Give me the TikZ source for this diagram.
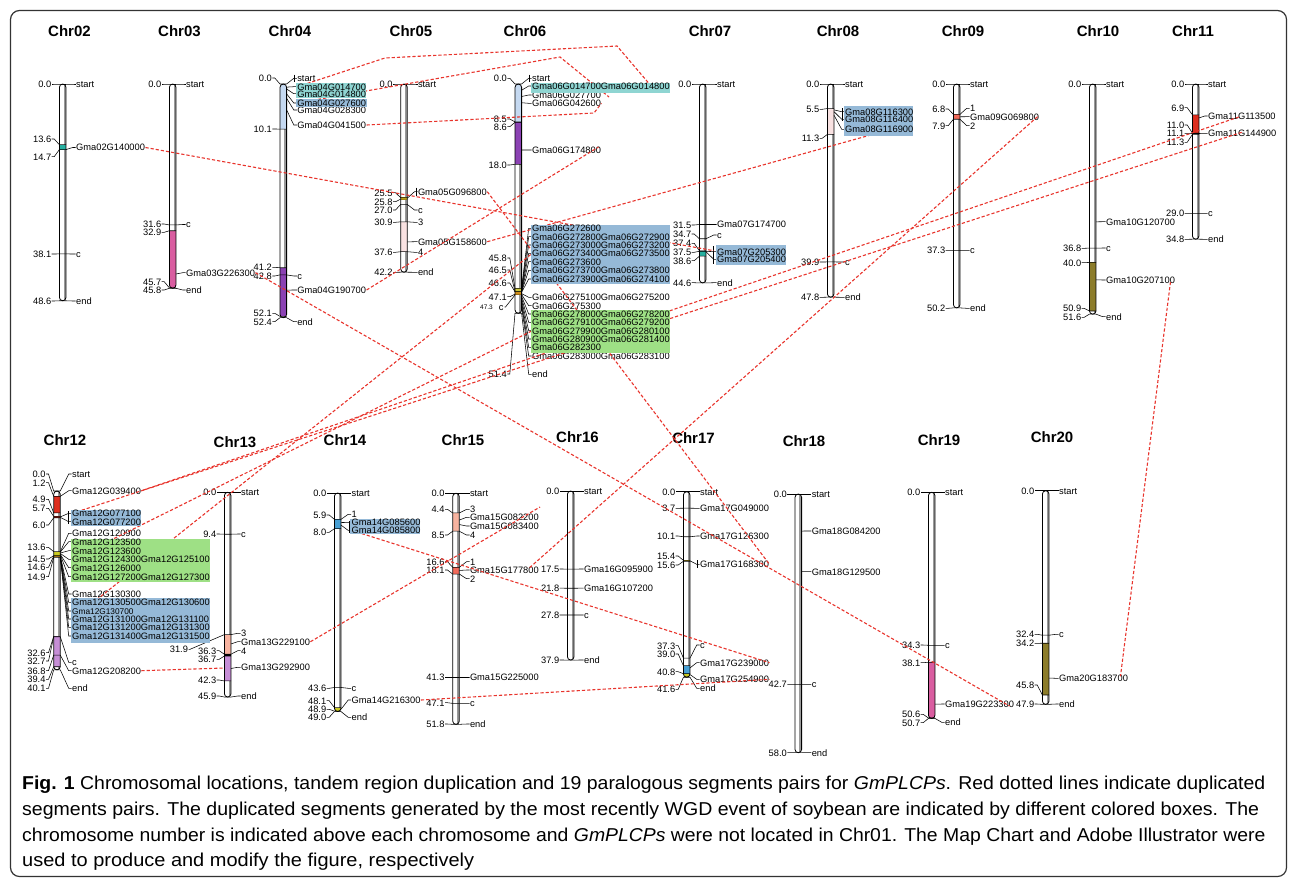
\documentclass[tikz,border=0pt]{standalone}
\usepackage{fontspec}
\setmainfont{Liberation Sans}
\usetikzlibrary{calc}
\definecolor{redl}{HTML}{E8342C}
\definecolor{sTeal}{HTML}{26B0A0}
\definecolor{sMag}{HTML}{D95DA0}
\definecolor{sLBlue}{HTML}{C5D9F1}
\definecolor{sPurp}{HTML}{8B42B3}
\definecolor{sYel}{HTML}{F2D024}
\definecolor{sLPink}{HTML}{F9E2E2}
\definecolor{sOliveY}{HTML}{C9C63E}
\definecolor{sOrange}{HTML}{EBA01E}
\definecolor{sSalmon}{HTML}{F26B5B}
\definecolor{sOlive}{HTML}{8C7C2A}
\definecolor{sRed}{HTML}{DE2F1F}
\definecolor{sPeach}{HTML}{F7B3A0}
\definecolor{sLav}{HTML}{C68ED6}
\definecolor{sBlue}{HTML}{479FD3}
\definecolor{sYG}{HTML}{CACA22}
\definecolor{hTeal}{HTML}{8FD5D2}
\definecolor{hBlue}{HTML}{95B9D7}
\definecolor{hGreen}{HTML}{9EE085}
\definecolor{stripe}{HTML}{9A9A9A}
\newcount\lblc
\newlength\tw
\tikzset{
 lk/.style={line width=0.55pt},
 lt/.style={inner sep=0.3pt, font=\fontsize{9.3}{9.3}\selectfont, text height=6.6pt, text depth=0pt},
 chrline/.style={line width=0.8pt},
 ttl/.style={font=\fontsize{15}{15}\selectfont\bfseries, inner sep=0},
 rdash/.style={draw=redl, line width=1.1pt, dash pattern=on 3.2pt off 2pt},
 capt/.style={anchor=base west, inner sep=0},
}
\newcommand\setc[3][13]{\def\cx{#2}\def\cy{#3}\def\ro{#1}}
\newcommand\chrom[2]{%
  \fill[white,rounded corners=3.3pt] ({\cx-3.3},\cy) rectangle ({\cx+3.3},{\cy+4.46*(#1)});
  \begin{scope}
   \clip[rounded corners=3.3pt] ({\cx-3.3},\cy) rectangle ({\cx+3.3},{\cy+4.46*(#1)});
   \fill[stripe] ({\cx+0.9},\cy) rectangle ({\cx+3.3},{\cy+4.46*(#1)});
   #2
  \end{scope}
  \draw[chrline,rounded corners=3.3pt] ({\cx-3.3},\cy) rectangle ({\cx+3.3},{\cy+4.46*(#1)});}
\newcommand\seg[3]{\fill[#3] ({\cx-3.4},{\cy+4.46*(#1)}) rectangle ({\cx+3.4},{\cy+4.46*(#2)});}
\newcommand\lft[3]{%
 \draw[lk] ({\cx+3.3},{\cy+4.46*(#1)}) -- ({\cx-3.3},{\cy+4.46*(#1)}) -- ({\cx-8.5},#2) -- ({\cx-11},#2);%
 \global\advance\lblc1
 \node[lt,anchor=east] (n\the\lblc) at ({\cx-11},#2) {#3};}
\newcommand\rgt[4][]{%
 \draw[lk] ({\cx+3.3},{\cy+4.46*(#2)}) -- ({\cx+\ro-3},#3) -- ({\cx+\ro},#3);%
 \global\advance\lblc1
 \if\relax\detokenize{#1}\relax\edef\nm{n\the\lblc}\else\def\nm{#1}\fi
 \node[lt,anchor=west] (\nm) at ({\cx+\ro},#3) {#4};}
\makeatletter
\def\deferred{}
\newcommand\rgh[4]{%
 \draw[lk] ({\cx+3.3},{\cy+4.46*(#2)}) -- ({\cx+\ro-3},#3) -- ({\cx+\ro},#3);%
 \settowidth\tw{\fontsize{9.3}{9.3}\selectfont #4}%
 \pgfmathsetmacro\tmpx{\cx+\ro}%
 \pgfmathsetmacro\tmpe{\cx+\ro+\tw+0.6}%
 \coordinate (#1W) at (\tmpx,#3);
 \coordinate (#1E) at (\tmpe,#3);
 \edef\tmp{\noexpand\node[lt,anchor=west] (#1) at (\tmpx,#3) {\unexpanded{#4}};}%
 \expandafter\g@addto@macro\expandafter\deferred\expandafter{\tmp}}
\makeatother
\begin{document}
\begin{tikzpicture}[x=1pt,y=-1pt]
\useasboundingbox (0,0) rectangle (1292,879);
\draw[line width=1.2pt, draw=black!80, rounded corners=9pt] (10.5,10.5) rectangle (1286.5,876.5);
% titles
\node[ttl] (t02) at (69.5,31) {Chr02};
\node[ttl] (t03) at (179.5,31) {Chr03};
\node[ttl] (t04) at (290,31) {Chr04};
\node[ttl] (t05) at (411,31) {Chr05};
\node[ttl] (t06) at (525,31) {Chr06};
\node[ttl] (t07) at (710,31) {Chr07};
\node[ttl] (t08) at (838,31) {Chr08};
\node[ttl] (t09) at (963,31) {Chr09};
\node[ttl] (t10) at (1098,31) {Chr10};
\node[ttl] (t11) at (1193,31) {Chr11};
\node[ttl] (t12) at (65,440) {Chr12};
\node[ttl] (t13) at (235,442) {Chr13};
\node[ttl] (t14) at (345,440) {Chr14};
\node[ttl] (t15) at (463,440) {Chr15};
\node[ttl] (t16) at (577.5,437) {Chr16};
\node[ttl] (t17) at (693.5,438) {Chr17};
\node[ttl] (t18) at (804,441) {Chr18};
\node[ttl] (t19) at (939,440) {Chr19};
\node[ttl] (t20) at (1052,437) {Chr20};
% Chr02
\setc{62.7}{84}
\chrom{48.6}{\seg{13.6}{14.7}{sTeal}}
\lft{0}{84}{0.0}\lft{13.6}{139}{13.6}\lft{14.7}{156.7}{14.7}\lft{38.1}{254}{38.1}\lft{48.6}{301}{48.6}
\rgt{0}{84}{start}\rgt[g02]{14.7}{147.5}{Gma02G140000}\rgt{38.1}{254}{c}\rgt{48.6}{301}{end}
% Chr03
\setc{172.7}{84}
\chrom{45.8}{\seg{32.9}{45.7}{sMag}}
\lft{0}{84}{0.0}\lft{31.6}{224}{31.6}\lft{32.9}{232.3}{32.9}\lft{45.7}{281.7}{45.7}\lft{45.8}{290}{45.8}
\rgt{0}{84}{start}\rgt{31.6}{224.5}{c}\rgt[g03]{42.6}{272.7}{Gma03G226300}\rgt{45.8}{290}{end}
% Chr04
\setc[13.5]{283.3}{84}
\chrom{52.4}{\seg{0}{10.1}{sLBlue}\seg{41.2}{52.1}{sPurp}}
\lft{0}{78}{0.0}\lft{10.1}{129}{10.1}\lft{41.2}{267.3}{41.2}\lft{42.8}{276}{42.8}\lft{52.1}{313.3}{52.1}\lft{52.4}{321.7}{52.4}
\rgt{0}{78.3}{start}\rgh{g04a}{0.7}{86.7}{Gma04G014700}\rgh{g04x}{1.1}{93.7}{Gma04G014800}\rgh{g04b}{2.2}{103}{Gma04G027600}\rgt{3.2}{110}{Gma04G028300}\rgt[g04c]{5.8}{125}{Gma04G041500}\rgt{42.8}{276}{c}\rgt[g04d]{46.2}{290}{Gma04G190700}\rgt{52.4}{321.7}{end}
\draw[lk] (293.8,74.5) -- (293.8,82);
% Chr05
\setc[13.5]{404}{84}
\chrom{42.2}{\seg{25.4}{25.9}{sYel}\seg{30.9}{37.6}{sLPink}}
\lft{0}{84}{0.0}\lft{25.5}{192.7}{25.5}\lft{25.8}{201.7}{25.8}\lft{27.0}{210}{27.0}\lft{30.9}{222.3}{30.9}\lft{37.6}{252.3}{37.6}\lft{42.2}{272.3}{42.2}
\rgt{0}{84}{start}\rgt[g05a]{25.6}{191.7}{Gma05G096800}\rgt{27.0}{210}{c}\rgt{30.9}{222.3}{3}\rgt[g05b]{35.4}{241.7}{Gma05G158600}\rgt{37.6}{252.3}{4}\rgt{42.2}{272.3}{end}
\draw[lk] (416,187.5) -- (416,196);
% Chr06
\setc[13.4]{518.3}{84}
\chrom{51.4}{\seg{0}{8.5}{sLBlue}\seg{8.6}{18.0}{sPurp}\seg{45.8}{46.6}{sOliveY}\seg{46.6}{47.4}{sOrange}}
\lft{0}{78.3}{0.0}\lft{8.5}{119}{8.5}\lft{8.6}{126.7}{8.6}\lft{18.0}{165}{18.0}\lft{45.8}{258}{45.8}\lft{46.5}{270}{46.5}\lft{46.6}{283}{46.6}\lft{47.1}{296.7}{47.1}\lft{51.4}{374}{51.4}
\draw[lk] ({\cx-3.3},{\cy+4.46*47.3}) -- (505.5,307) -- (504.5,307);
\node[lt,anchor=east] (c06) at (504,307) {c};
\node[inner sep=0, anchor=east, font=\fontsize{6.5}{6.5}\selectfont] (p06) at (493,307) {47.3};
\rgt{0}{78.3}{start}\rgh{g06a}{1.4}{86}{Gma06G014700Gma06G014800}\rgt[g06b]{2.8}{95}{Gma06G027700}\rgt[g06c]{4.2}{103.3}{Gma06G042600}\rgt[g06d]{14.8}{150}{Gma06G174800}
\draw[lk] (528.8,74.5) -- (528.8,82);
\rgh{g06h1}{45.8}{228.3}{Gma06G272600}
\rgh{g06h2}{46.0}{236.7}{Gma06G272800Gma06G272900}
\rgh{g06h3}{46.2}{245}{Gma06G273000Gma06G273200}
\rgh{g06f}{46.4}{253.3}{Gma06G273400Gma06G273500}
\rgh{g06h5}{46.5}{261.7}{Gma06G273600}
\rgh{g06h6}{46.6}{270.3}{Gma06G273700Gma06G273800}
\rgh{g06h7}{46.7}{279}{Gma06G273900Gma06G274100}
\rgt{47.0}{297.3}{Gma06G275100Gma06G275200}
\rgt{47.2}{305.7}{Gma06G275300}
\rgh{g06k1}{47.6}{314}{Gma06G278000Gma06G278200}
\rgh{g06k2}{48.0}{322.3}{Gma06G279100Gma06G279200}
\rgh{g06g}{48.5}{330.7}{Gma06G279900Gma06G280100}
\rgh{g06k4}{49.0}{339}{Gma06G280900Gma06G281400}
\rgh{g06k5}{49.5}{347.3}{Gma06G282300}
\rgt{50.0}{356}{Gma06G283000Gma06G283100}
\rgt{51.4}{374.3}{end}
% Chr07
\setc[14]{702.7}{84}
\chrom{44.6}{\seg{37.5}{38.6}{sTeal}}
\lft{0}{84}{0.0}\lft{31.5}{225}{31.5}\lft{34.7}{234}{34.7}\lft{37.4}{243.3}{37.4}\lft{37.5}{252.3}{37.5}\lft{38.6}{260.7}{38.6}\lft{44.6}{282.7}{44.6}
\rgt{0}{84}{start}\rgt{31.5}{224.5}{Gma07G174700}\rgt{34.7}{235}{c}\rgh{g07}{37.5}{251.7}{Gma07G205300}\rgh{g07x}{37.6}{259.3}{Gma07G205400}\rgt{44.6}{282.7}{end}
\draw[lk] (713,246) -- (713,264);
% Chr08
\setc[14]{830.7}{84}
\chrom{47.8}{\seg{5.5}{11.3}{sLPink}}
\lft{0}{84}{0.0}\lft{5.5}{109.3}{5.5}\lft{11.3}{138.3}{11.3}\lft{39.9}{262}{39.9}\lft{47.8}{297.3}{47.8}
\rgt{0}{84}{start}\rgh{g08a}{5.8}{111.7}{Gma08G116300}\rgh{g08b}{6.2}{119.3}{Gma08G116400}\rgh{g08}{7.0}{129.3}{Gma08G116900}\rgt{39.9}{262}{c}\rgt{47.8}{297.3}{end}
\draw[lk] (842,108) -- (842,121);
% Chr09
\setc{956.7}{84}
\chrom{50.2}{\seg{6.8}{7.9}{sSalmon}}
\lft{0}{84}{0.0}\lft{6.8}{109}{6.8}\lft{7.9}{125.7}{7.9}\lft{37.3}{250.4}{37.3}\lft{50.2}{308.3}{50.2}
\rgt{0}{84}{start}\rgt{6.8}{108.3}{1}\rgt[g09]{7.35}{116.7}{Gma09G069800}\rgt{7.9}{125.7}{2}\rgt{37.3}{250.4}{c}\rgt{50.2}{308.3}{end}
% Chr10
\setc{1092.7}{84}
\chrom{51.6}{\seg{40.0}{50.9}{sOlive}}
\lft{0}{84}{0.0}\lft{36.8}{248.3}{36.8}\lft{40.0}{262.7}{40.0}\lft{50.9}{308.3}{50.9}\lft{51.6}{317.3}{51.6}
\rgt{0}{84}{start}\rgt{30.9}{221.7}{Gma10G120700}\rgt{36.8}{248}{c}\rgt[g10]{43.9}{280}{Gma10G207100}\rgt{51.6}{316.7}{end}
% Chr11
\setc[12]{1195.7}{84}
\chrom{34.8}{\seg{6.9}{11.3}{sRed}}
\lft{0}{84}{0.0}\lft{6.9}{107.7}{6.9}\lft{11.0}{125}{11.0}\lft{11.1}{133.3}{11.1}\lft{11.3}{142.3}{11.3}\lft{29.0}{213.3}{29.0}\lft{34.8}{239.3}{34.8}
\rgt{0}{84}{start}\rgt[g11a]{7.6}{116}{Gma11G113500}\rgt[g11b]{11.1}{133.3}{Gma11G144900}\rgt{29.0}{213.3}{c}\rgt{34.8}{239.3}{end}
% Chr12
\setc[14.7]{57}{491}
\chrom{40.1}{\seg{1.2}{4.9}{sRed}\seg{5.7}{6.0}{sRed}\seg{13.6}{14.5}{sYG}\seg{14.5}{14.9}{sOrange}\seg{32.6}{39.4}{sLav}}
\lft{0}{474}{0.0}\lft{1.2}{482.7}{1.2}\lft{4.9}{499.3}{4.9}\lft{5.7}{508.3}{5.7}\lft{6.0}{525}{6.0}\lft{13.6}{547.3}{13.6}\lft{14.5}{559}{14.5}\lft{14.6}{567.3}{14.6}\lft{14.9}{576.7}{14.9}\lft{32.6}{652.7}{32.6}\lft{32.7}{661}{32.7}\lft{36.8}{670.7}{36.8}\lft{39.4}{679.3}{39.4}\lft{40.1}{688.3}{40.1}
\rgt{0}{474}{start}\rgt[g12a]{1.2}{490.7}{Gma12G039400}\rgh{g12b}{5.8}{513.3}{Gma12G077100}\rgh{g12bx}{5.9}{521.7}{Gma12G077200}
\rgt{13.6}{533.3}{Gma12G120900}\rgh{g12m1}{13.7}{541.7}{Gma12G123500}\rgh{g12m2}{13.9}{550.7}{Gma12G123600}\rgh{g12c}{14.0}{559.3}{Gma12G124300Gma12G125100}\rgh{g12m4}{14.2}{567.7}{Gma12G126000}\rgh{g12m5}{14.3}{576.7}{Gma12G127200Gma12G127300}
\rgt{14.5}{594}{Gma12G130300}\rgh{g12p1}{14.6}{602.3}{Gma12G130500Gma12G130600}\rgh{g12p2}{14.7}{611}{\fontsize{8.3}{8.3}\selectfont Gma12G130700}\rgh{g12d}{14.75}{619}{Gma12G131000Gma12G131100}\rgh{g12p4}{14.8}{627.3}{Gma12G131200Gma12G131300}\rgh{g12p5}{14.9}{636}{Gma12G131400Gma12G131500}
\rgt{32.7}{662.3}{c}\rgt[g12e]{36.8}{670.7}{Gma12G208200}\rgt{40.1}{688.3}{end}
\draw[lk] (68,511) -- (68,524);
% Chr13
\setc{227.7}{492.3}
\chrom{45.9}{\seg{31.9}{36.3}{sPeach}\seg{36.3}{36.7}{black}\seg{36.7}{42.3}{sLav}}
\lft{0}{492.3}{0.0}\lft{9.4}{534}{9.4}\lft{36.3}{650.7}{36.3}\lft{36.7}{659.3}{36.7}\lft{42.3}{680}{42.3}\lft{45.9}{696}{45.9}
\draw[lk] ({\cx+3.3},{\cy+4.46*31.9}) -- ({\cx-3.3},{\cy+4.46*31.9}) -- (190,649.3) -- (188.5,649.3);
\node[lt,anchor=east] (l1319) at (188.5,649.3) {31.9};
\rgt{0}{492.3}{start}\rgt{9.4}{534}{c}\rgt{31.9}{633.3}{3}\rgt[g13a]{34}{641.7}{Gma13G229100}\rgt{36.3}{650.7}{4}\rgt[g13b]{39.5}{667.3}{Gma13G292900}\rgt{45.9}{696}{end}
% Chr14
\setc[13.5]{337.7}{493}
\chrom{49.0}{\seg{5.9}{8.0}{sBlue}\seg{48.1}{48.9}{sYG}}
\lft{0}{493}{0.0}\lft{5.9}{515}{5.9}\lft{8.0}{532.3}{8.0}\lft{43.6}{688.3}{43.6}\lft{48.1}{700.7}{48.1}\lft{48.9}{709.3}{48.9}\lft{49.0}{717.3}{49.0}
\rgt{0}{493}{start}\rgt{5.9}{514.3}{1}\rgh{g14x}{6.6}{522.6}{Gma14G085600}\rgh{g14a}{7.2}{530.4}{Gma14G085800}\rgt{43.6}{688.3}{c}\rgt[g14b]{48.5}{700}{Gma14G216300}\rgt{49}{717.3}{end}
\draw[lk] (349,520.5) -- (349,532.5);
% Chr15
\setc[13.5]{456}{493.3}
\chrom{51.8}{\seg{4.4}{8.5}{sPeach}\seg{16.6}{18.1}{sSalmon}}
\lft{0}{493.3}{0.0}\lft{4.4}{509.3}{4.4}\lft{8.5}{535}{8.5}\lft{16.6}{561.7}{16.6}\lft{18.1}{570}{18.1}\lft{41.3}{677.5}{41.3}\lft{47.1}{702.7}{47.1}\lft{51.8}{724}{51.8}
\rgt{0}{493.3}{start}\rgt{4.4}{509.3}{3}\rgt[g15a]{6}{517.3}{Gma15G082200}\rgt{7}{526}{Gma15G083400}\rgt{8.5}{535}{4}\rgt{16.6}{561.7}{1}\rgt[g15b]{17.3}{570}{Gma15G177800}\rgt{18.1}{578.7}{2}\rgt{41.3}{677.5}{Gma15G225000}\rgt{47.1}{703.4}{c}\rgt{51.8}{724}{end}
% Chr16
\setc{570.7}{491}
\chrom{37.9}{}
\lft{0}{491}{0.0}\lft{17.5}{569}{17.5}\lft{21.8}{588.2}{21.8}\lft{27.8}{615}{27.8}\lft{37.9}{660}{37.9}
\rgt{0}{491}{start}\rgt{17.5}{569}{Gma16G095900}\rgt{21.8}{588.2}{Gma16G107200}\rgt{27.8}{615}{c}\rgt{37.9}{660}{end}
% Chr17
\setc{686.7}{491.7}
\chrom{41.6}{\seg{15.4}{15.6}{sYel}\seg{39.0}{40.8}{sBlue}\seg{40.8}{41.6}{sYG}}
\lft{0}{491.7}{0.0}\lft{3.7}{508.3}{3.7}\lft{10.1}{536}{10.1}\lft{15.4}{556}{15.4}\lft{15.6}{565}{15.6}\lft{37.3}{645.7}{37.3}\lft{39.0}{654}{39.0}\lft{40.8}{671.7}{40.8}\lft{41.6}{689.3}{41.6}
\rgt{0}{491.7}{start}\rgt{3.7}{508.3}{Gma17G049000}\rgt{10.1}{536}{Gma17G126300}\rgt[g17a]{15.5}{564.3}{Gma17G168300}\rgt{37.3}{645}{c}\rgt[g17b]{39.5}{662.7}{Gma17G239000}\rgt[g17c]{41.0}{679.3}{Gma17G254900}\rgt{41.6}{688.3}{end}
\draw[lk] (697.5,560) -- (697.5,568);
% Chr18
\setc{798.3}{494}
\chrom{58}{}
\lft{0}{494}{0.0}\lft{42.7}{684.4}{42.7}\lft{58}{752.7}{58.0}
\rgt{0}{494}{start}\rgt{8.3}{531}{Gma18G084200}\rgt{17.4}{571.7}{Gma18G129500}\rgt{42.7}{684.4}{c}\rgt{58}{752.7}{end}
% Chr19
\setc{931.7}{492.3}
\chrom{50.7}{\seg{38.1}{50.6}{sMag}}
\lft{0}{492.3}{0.0}\lft{34.3}{645}{34.3}\lft{38.1}{662.7}{38.1}\lft{50.6}{714.3}{50.6}\lft{50.7}{722.7}{50.7}
\rgt{0}{492.3}{start}\rgt{34.3}{645.3}{c}\rgt[g19]{47.5}{704}{Gma19G223300}\rgt{50.7}{722.3}{end}
% Chr20
\setc{1045.7}{490.7}
\chrom{47.9}{\seg{34.2}{45.8}{sOlive}}
\lft{0}{490.7}{0.0}\lft{32.4}{634.3}{32.4}\lft{34.2}{643.3}{34.2}\lft{45.8}{685}{45.8}\lft{47.9}{704}{47.9}
\rgt{0}{490.7}{start}\rgt{32.4}{634.3}{c}\rgt[g20]{42}{678.3}{Gma20G183700}\rgt{47.9}{704}{end}
% red dashed connectors
\coordinate (k2a) at (385,58); \coordinate (k2b) at (617,46); \coordinate (k2c) at (652,87);
\coordinate (k3a) at (560,57); \coordinate (k3b) at (609,97);
\coordinate (k4a) at (594,113);
\coordinate (k7) at (885,131);
\coordinate (k11a) at ($(g11a.west)+(31,1)$);
\coordinate (k11b) at ($(g11b.west)+(34,-1)$);
\coordinate (k14) at (540,507);
\coordinate (k13b) at (224.4,668);
\draw[rdash] (g02.east) -- ($(g07W)+(-3,-1)$);
\draw[rdash] (g04aE) -- (k2a) -- (k2b) -- (k2c);
\draw[rdash] (g04bE) -- (k3a) -- (k3b);
\draw[rdash] (g04c.east) -- (k4a) -- (g06c.east);
\draw[rdash] (g04d.east) -- ($(g06d.east)+(-3,-3)$);
\draw[rdash] (g03.east) -- ($(g19.east)+(-5,2)$);
\draw[rdash] (g05b.east) -- (k7);
\draw[rdash] (g05a.east) -- (g17a.east);
\draw[rdash] (g12cE) -- (g06gE);
\draw[rdash] (g12dE) -- (g06fE);
\draw[rdash] (k11a) -- (g12a.east);
\draw[rdash] (k11b) -- (g12bE);
\draw[rdash] ($(g09.east)+(-2,0)$) -- ($(g15b.east)+(-10,-2)$);
\draw[rdash] (g13a.east) -- (k14);
\draw[rdash] (g14aE) -- (g17b.east);
\draw[rdash] (g14b.east) -- (g17c.east);
\draw[rdash] ($(g10.east)+(-5,2)$) -- ($(g20.east)+(-8,-2)$);
\draw[rdash] (g12e.east) -- (k13b);
% highlight boxes
\fill[hTeal] (296,82.6) rectangle (365.7,97.6);
\fill[hBlue] (296,98.8) rectangle (366.7,107);
\fill[hTeal] (531,82.5) rectangle (670,92.5);
\fill[hBlue] (531,224.5) rectangle (670,284);
\fill[hGreen] (531,310) rectangle (670,352.5);
\fill[hBlue] (716,245) rectangle (785.5,265);
\fill[hBlue] (844,106) rectangle (913,136);
\fill[hBlue] (70.7,510) rectangle (141,526);
\fill[hGreen] (70.7,539) rectangle (210,581.7);
\fill[hBlue] (70.7,597.7) rectangle (210,642.7);
\fill[hBlue] (350,518.8) rectangle (420,534);
\deferred
% caption
\node[capt] (cap1) at (22,789) {\resizebox{1243pt}{13.5pt}{\textbf{Fig. 1} Chromosomal locations, tandem region duplication and 19 paralogous segments pairs for \textit{GmPLCPs}. Red dotted lines indicate duplicated}};
\node[capt] (cap2) at (22,815) {\resizebox{1237pt}{13.5pt}{segments pairs. The duplicated segments generated by the most recently WGD event of soybean are indicated by different colored boxes. The}};
\node[capt] (cap3) at (22,841) {\resizebox{1243pt}{13.5pt}{chromosome number is indicated above each chromosome and \textit{GmPLCPs} were not located in Chr01. The Map Chart and Adobe Illustrator were}};
\node[capt] (cap4) at (22,866) {\resizebox{452pt}{13.5pt}{used to produce and modify the figure, respectively}};
\end{tikzpicture}
\end{document}
